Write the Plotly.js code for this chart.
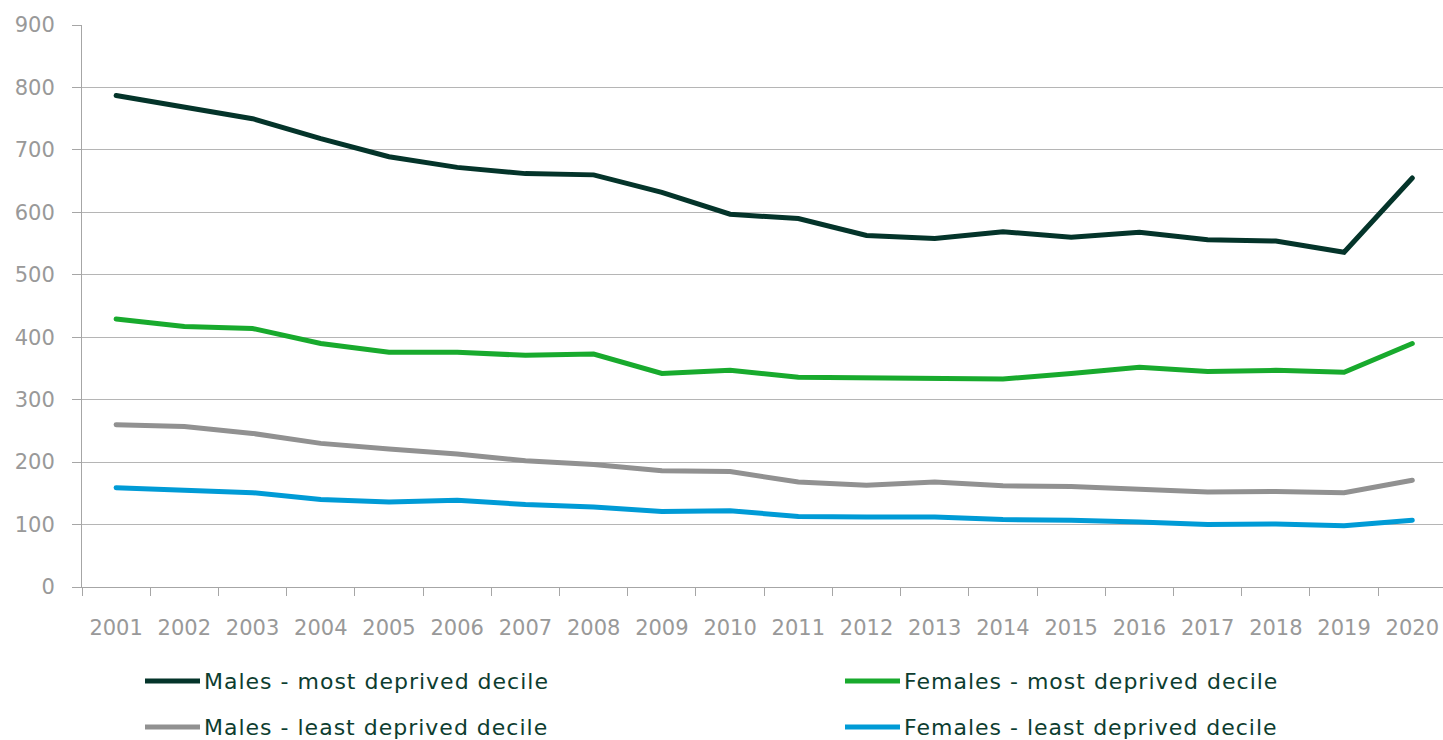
<!DOCTYPE html>
<html>
<head>
<meta charset="utf-8">
<script src="https://cdn.plot.ly/plotly-3.0.1.min.js"></script>
<style>
  html, body { margin: 0; padding: 0; background: #ffffff; }
  #chart { width: 1443px; height: 740px; }
  .scatterlayer .js-line { stroke-linecap: round; }
  .annotation-text { letter-spacing: 1px; }
</style>
</head>
<body>
<div id="chart"></div>
<script>
// Years on the category axis
const years = ['2001','2002','2003','2004','2005','2006','2007','2008','2009','2010',
               '2011','2012','2013','2014','2015','2016','2017','2018','2019','2020'];

// Rates per series, by year
const malesMostDeprived = [787, 769, 750, 718, 689, 672, 662, 660, 632, 597,
                           590, 563, 558, 569, 560, 568, 556, 554, 536, 655];
const femalesMostDeprived = [429, 417, 414, 390, 376, 376, 371, 373, 342, 347,
                             336, 335, 332, 333, 342, 352, 345, 347, 344, 390];
const malesLeastDeprived = [260, 257, 246, 230, 221, 213, 202, 196, 186, 185,
                            168, 163, 168, 162, 161, 157, 152, 153, 151, 171];
const femalesLeastDeprived = [159, 156, 151, 140, 136, 139, 132, 128, 121, 122,
                              113, 112, 112, 108, 107, 104, 100, 101, 98, 107];

const seriesNames = ['Males - most deprived decile', 'Females - most deprived decile',
                     'Males - least deprived decile', 'Females - least deprived decile'];
const seriesValues = [malesMostDeprived, femalesMostDeprived, malesLeastDeprived, femalesLeastDeprived];
const seriesColors = ['#04342a', '#18aa2d', '#919191', '#009bd6'];

const FONT = 'DejaVu Sans, sans-serif';
const W = 1443, H = 740;
const M = { l: 82, r: 0, t: 25, b: 153 };
const plotW = W - M.l - M.r, plotH = H - M.t - M.b;

// pixel -> paper helpers for the legend block
const px = x => (x - M.l) / plotW;
const py = y => (H - M.b - y) / plotH;

const traces = seriesValues.map((vals, i) => ({
  type: 'scatter',
  mode: 'lines',
  x: years,
  y: vals,
  name: seriesNames[i],
  line: { color: seriesColors[i], width: 5 },
  showlegend: false,
  hoverinfo: 'x+y+name'
}));

// Legend laid out as two columns, two rows
const legendCols = [145, 845];
const legendRows = [681, 727];
const shapes = [];
const annotations = [];
seriesNames.forEach((name, i) => {
  const cx = legendCols[i % 2];
  const cy = legendRows[Math.floor(i / 2)];
  shapes.push({
    type: 'line', xref: 'paper', yref: 'paper',
    x0: px(cx), x1: px(cx + 55), y0: py(cy), y1: py(cy),
    line: { color: seriesColors[i], width: 5 }
  });
  annotations.push({
    xref: 'paper', yref: 'paper', x: px(cx + 57), y: py(cy),
    xanchor: 'left', yanchor: 'middle', showarrow: false,
    text: name, font: { family: FONT, size: 22, color: '#0d3d30' }
  });
});

const layout = {
  width: W, height: H,
  margin: M,
  paper_bgcolor: '#ffffff',
  plot_bgcolor: '#ffffff',
  showlegend: false,
  font: { family: FONT, size: 21, color: '#999999' },
  xaxis: {
    type: 'category',
    range: [-0.5, 19.45],
    tickson: 'boundaries',
    ticks: 'outside', ticklen: 8, tickcolor: '#a6a6a6', tickwidth: 1,
    showgrid: false,
    showline: true, linecolor: '#a6a6a6', linewidth: 1,
    ticklabelstandoff: 22,
    tickfont: { family: FONT, size: 21, color: '#999999' },
    fixedrange: true
  },
  yaxis: {
    range: [0, 900],
    dtick: 100, tick0: 0,
    ticks: 'outside', ticklen: 9, tickcolor: '#a6a6a6', tickwidth: 1,
    showgrid: true, gridcolor: '#b5b5b5', gridwidth: 1,
    zeroline: false,
    showline: true, linecolor: '#a6a6a6', linewidth: 1,
    ticklabelstandoff: 13,
    tickfont: { family: FONT, size: 21, color: '#999999' },
    fixedrange: true
  },
  shapes: shapes,
  annotations: annotations
};

Plotly.newPlot('chart', traces, layout, { displayModeBar: false, staticPlot: true });
</script>
</body>
</html>
